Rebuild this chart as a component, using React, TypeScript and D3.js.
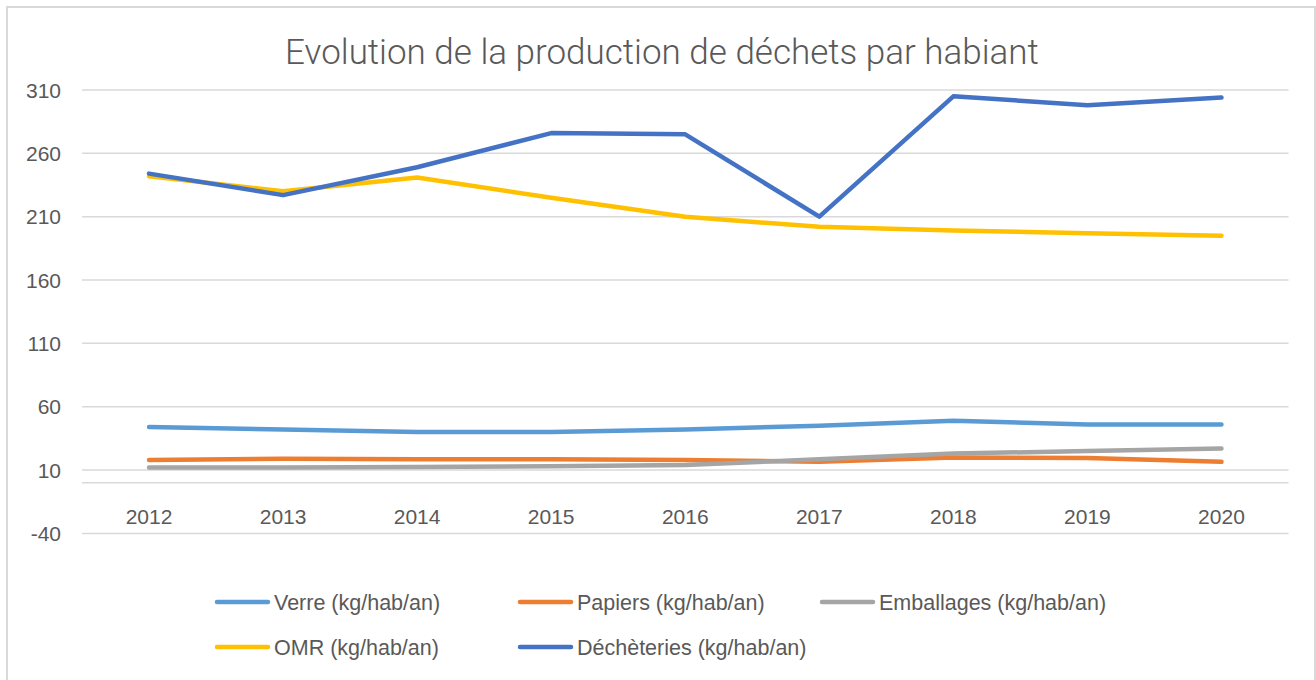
import React from 'react';
import * as d3 from 'd3';

const years = ['2012', '2013', '2014', '2015', '2016', '2017', '2018', '2019', '2020'];
const verre = [44, 42, 40, 40, 42, 45, 49, 46, 46];
const papiers = [18, 19, 18.5, 18.5, 18, 16.5, 20, 19.5, 16.5];
const emballages = [12, 12, 12.5, 13, 14, 18.5, 23, 25, 27];
const omr = [242, 230, 241, 225, 210, 202, 199, 197, 195];
const decheteries = [244, 227, 249, 276, 275, 210, 305, 298, 304];
const yTicks = [-40, 10, 60, 110, 160, 210, 260, 310];

const seriesNames = [
  'Verre (kg/hab/an)',
  'Papiers (kg/hab/an)',
  'Emballages (kg/hab/an)',
  'OMR (kg/hab/an)',
  'Déchèteries (kg/hab/an)',
];
const seriesColors = ['#5B9BD5', '#ED7D31', '#A5A5A5', '#FFC000', '#4472C4'];
const seriesValues = [verre, papiers, emballages, omr, decheteries];

const W = 1316;
const H = 680;
const FONT = '"Liberation Sans", Arial, sans-serif';
const TEXT = '#595959';

export default function App() {
  const x = d3.scaleBand<string>().domain(years).range([82, 1288.5]).padding(0);
  const y = d3.scaleLinear().domain([-40, 310]).range([533.4, 90]);
  const cx = (yr: string) => (x(yr) as number) + x.bandwidth() / 2;
  const line = d3
    .line<number>()
    .x((_, i) => cx(years[i]))
    .y((v) => y(v));

  const legendPos = [
    { lx: 217, ly: 602 },
    { lx: 520, ly: 602 },
    { lx: 822, ly: 602 },
    { lx: 217, ly: 647 },
    { lx: 520, ly: 647 },
  ];

  return (
    <svg
      width={W}
      height={H}
      style={{ position: 'absolute', left: 0, top: 0, background: '#fff' }}
      fontFamily={FONT}
    >
      <rect x={0} y={0} width={W} height={H} fill="#fff" />
      <rect x={7} y={7} width={1308} height={700} fill="none" stroke="#D9D9D9" strokeWidth={2} />
      <text
        x={662}
        y={64}
        textAnchor="middle"
        fontSize={35}
        fill={TEXT}
        fontFamily='Roboto, "Liberation Sans", sans-serif'
        fontWeight={300}
      >
        Evolution de la production de déchets par habiant
      </text>
      {yTicks.map((t) => (
        <g key={t}>
          <line x1={82} x2={1288.5} y1={y(t)} y2={y(t)} stroke="#D9D9D9" strokeWidth={1.5} />
          <text x={61} y={y(t)} dy="0.36em" textAnchor="end" fontSize={21} fill={TEXT}>
            {t}
          </text>
        </g>
      ))}
      <line x1={82} x2={1288.5} y1={y(0)} y2={y(0)} stroke="#D9D9D9" strokeWidth={1.5} />
      {years.map((yr) => (
        <text key={yr} x={cx(yr)} y={524} textAnchor="middle" fontSize={21} fill={TEXT}>
          {yr}
        </text>
      ))}
      {seriesValues.map((vals, i) => (
        <path
          key={seriesNames[i]}
          d={line(vals) || ''}
          fill="none"
          stroke={seriesColors[i]}
          strokeWidth={4.5}
          strokeLinecap="round"
          strokeLinejoin="round"
        />
      ))}
      {seriesNames.map((n, i) => (
        <g key={n}>
          <line
            x1={legendPos[i].lx}
            x2={legendPos[i].lx + 51}
            y1={legendPos[i].ly}
            y2={legendPos[i].ly}
            stroke={seriesColors[i]}
            strokeWidth={4.5}
            strokeLinecap="round"
          />
          <text x={legendPos[i].lx + 57} y={legendPos[i].ly} dy="0.36em" fontSize={21.5} fill={TEXT}>
            {n}
          </text>
        </g>
      ))}
    </svg>
  );
}
